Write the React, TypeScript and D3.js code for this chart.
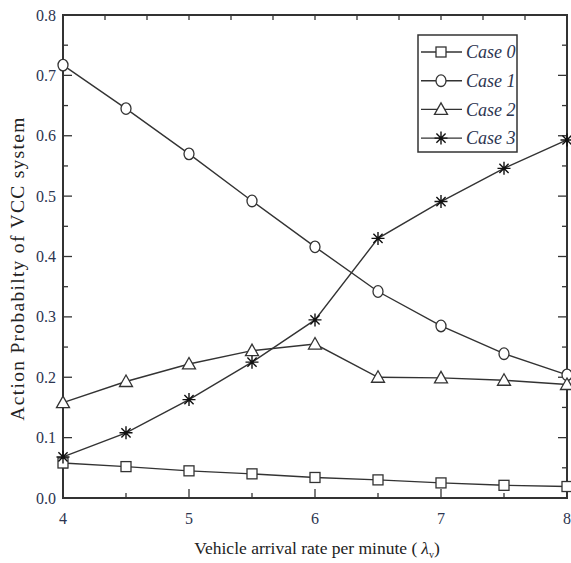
import React from 'react';
import * as d3 from 'd3';

const xValues = [4, 4.5, 5, 5.5, 6, 6.5, 7, 7.5, 8];
const case0 = [0.058, 0.052, 0.045, 0.04, 0.034, 0.03, 0.025, 0.021, 0.019];
const case1 = [0.717, 0.645, 0.57, 0.492, 0.416, 0.342, 0.285, 0.239, 0.204];
const case2 = [0.158, 0.193, 0.222, 0.244, 0.255, 0.2, 0.199, 0.195, 0.188];
const case3 = [0.068, 0.108, 0.163, 0.225, 0.295, 0.43, 0.491, 0.546, 0.593];
const seriesNames = ['Case 0', 'Case 1', 'Case 2', 'Case 3'];
const markerKinds = ['square', 'circle', 'triangle', 'star'];
const xTickLabels = [4, 5, 6, 7, 8];
const yTickLabels = [0, 0.1, 0.2, 0.3, 0.4, 0.5, 0.6, 0.7, 0.8];

const W = 571;
const H = 563;
const margin = { top: 15, right: 4, bottom: 65, left: 63 };
const ink = '#333';
const labelInk = '#2c3550';
const serif = "'Liberation Serif', 'Times New Roman', Times, serif";

function Marker({ kind, x, y }: { kind: string; x: number; y: number }) {
	if (kind === 'square') {
		return <rect x={x - 5} y={y - 5} width={10} height={10} fill="#fff" stroke={ink} strokeWidth={1.3} />;
	}
	if (kind === 'circle') {
		return <ellipse cx={x} cy={y} rx={5} ry={5.8} fill="#fff" stroke={ink} strokeWidth={1.3} />;
	}
	if (kind === 'triangle') {
		return (
			<path
				d={`M${x},${y - 6.5}L${x + 6.5},${y + 5}L${x - 6.5},${y + 5}Z`}
				fill="#fff"
				stroke={ink}
				strokeWidth={1.3}
			/>
		);
	}
	const r = 6.5;
	const d = r * Math.SQRT1_2;
	return (
		<path
			d={`M${x - r},${y}L${x + r},${y}M${x},${y - r}L${x},${y + r}M${x - d},${y - d}L${x + d},${y + d}M${x - d},${y + d}L${x + d},${y - d}`}
			stroke="#111"
			strokeWidth={1.4}
		/>
	);
}

export default function App() {
	const x = d3.scaleLinear().domain([4, 8]).range([margin.left, W - margin.right]);
	const y = d3.scaleLinear().domain([0, 0.8]).range([H - margin.bottom, margin.top]);
	const series = [case0, case1, case2, case3];
	const line = d3
		.line<number>()
		.x((_, i) => x(xValues[i]))
		.y((v) => y(v));

	const x0 = x(4);
	const x1 = x(8);
	const y0 = y(0);
	const y1 = y(0.8);

	const bottomMinor = d3.range(4, 8.01, 0.5);
	const topTicks = d3.range(0, 13).map((i) => 4 + i / 3);
	const yMinor = d3.range(0, 0.801, 0.05);

	const legendX = 418;
	const legendY = 35;
	const rowH = 28.7;

	return (
		<svg width={W} height={H} style={{ position: 'absolute', left: 0, top: 0, background: '#fff' }}>
			{/* bottom ticks */}
			{bottomMinor.map((t, i) => (
				<line
					key={'bt' + i}
					x1={x(t)}
					x2={x(t)}
					y1={y0}
					y2={y0 - (Number.isInteger(t) ? 9 : 5)}
					stroke={ink}
					strokeWidth={1.3}
				/>
			))}
			{/* top ticks */}
			{topTicks.map((t, i) => (
				<line key={'tt' + i} x1={x(t)} x2={x(t)} y1={y1} y2={y1 + 5} stroke={ink} strokeWidth={1.3} />
			))}
			{/* left and right ticks */}
			{yMinor.map((t, i) => {
				const len = i % 2 === 0 ? 9 : 5;
				return (
					<g key={'yt' + i}>
						<line x1={x0} x2={x0 + len} y1={y(t)} y2={y(t)} stroke={ink} strokeWidth={1.3} />
						<line x1={x1} x2={x1 - len} y1={y(t)} y2={y(t)} stroke={ink} strokeWidth={1.3} />
					</g>
				);
			})}
			<rect x={x0} y={y1} width={x1 - x0} height={y0 - y1} fill="none" stroke={ink} strokeWidth={2} />

			{/* tick labels */}
			{yTickLabels.map((t) => (
				<text
					key={'yl' + t}
					x={x0 - 7}
					y={y(t)}
					dy="0.35em"
					textAnchor="end"
					fontFamily={serif}
					fontSize={16}
					fill={labelInk}
				>
					{t.toFixed(1)}
				</text>
			))}
			{xTickLabels.map((t) => (
				<text
					key={'xl' + t}
					x={x(t)}
					y={y0 + 26}
					textAnchor="middle"
					fontFamily={serif}
					fontSize={16}
					fill={labelInk}
				>
					{t}
				</text>
			))}

			{/* axis titles */}
			<text x={317} y={554} textAnchor="middle" fontFamily={serif} fontSize={17.5} fill="#222">
				Vehicle arrival rate per minute (
				<tspan fontStyle="italic" dx={4}>
					λ
				</tspan>
				<tspan fontSize={10} dy={4}>
					v
				</tspan>
				<tspan dy={-4}>)</tspan>
			</text>
			<text
				transform={`translate(24,${(y0 + y1) / 2 + 12}) rotate(-90)`}
				textAnchor="middle"
				fontFamily={serif}
				fontSize={19.5}
				letterSpacing={1.3}
				fill="#222"
			>
				Action Probabilty of VCC system
			</text>

			{/* series */}
			{series.map((s, si) => (
				<g key={'s' + si}>
					<path d={line(s) || ''} fill="none" stroke={ink} strokeWidth={1.4} />
					{s.map((v, i) => (
						<Marker key={i} kind={markerKinds[si]} x={x(xValues[i])} y={y(v)} />
					))}
				</g>
			))}

			{/* legend */}
			<rect x={legendX} y={legendY} width={99} height={117} fill="#fff" stroke={ink} strokeWidth={1.5} />
			{seriesNames.map((name, i) => {
				const cy = legendY + 17 + i * rowH;
				return (
					<g key={'lg' + i}>
						<line x1={legendX + 3} x2={legendX + 44} y1={cy} y2={cy} stroke={ink} strokeWidth={1.4} />
						<Marker kind={markerKinds[i]} x={legendX + 23} y={cy} />
						<text
							x={legendX + 48}
							y={cy}
							dy="0.35em"
							fontFamily={serif}
							fontStyle="italic"
							fontSize={18}
							fill={labelInk}
						>
							{name}
						</text>
					</g>
				);
			})}
		</svg>
	);
}
